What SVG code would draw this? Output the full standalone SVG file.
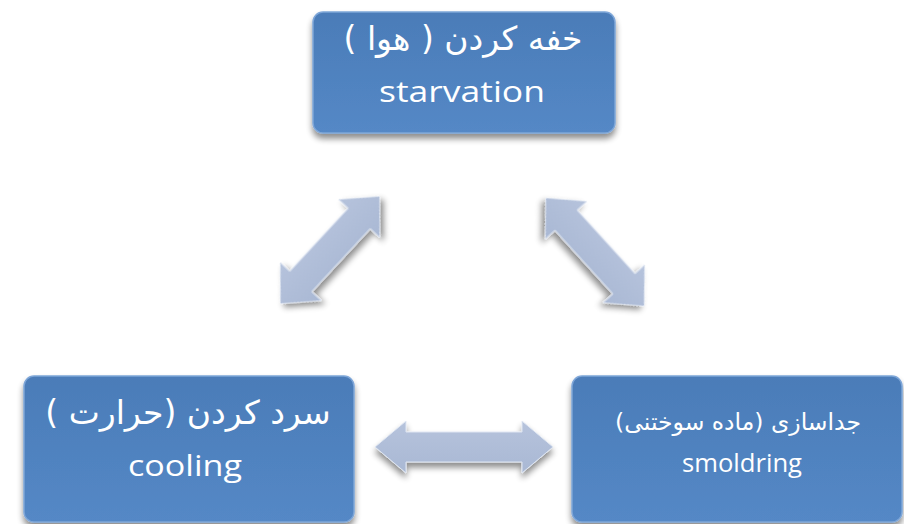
<svg xmlns="http://www.w3.org/2000/svg" width="904" height="524" viewBox="0 0 904 524">
<defs>
<linearGradient id="boxg" x1="0" y1="0" x2="0" y2="1">
<stop offset="0" stop-color="#4b7cb8"/>
<stop offset="1" stop-color="#5488c6"/>
</linearGradient>
<linearGradient id="arrg" x1="0" y1="0" x2="0" y2="1">
<stop offset="0" stop-color="#b6c3dc"/>
<stop offset="1" stop-color="#a9b8d4"/>
</linearGradient>
<filter id="sh" x="-20%" y="-20%" width="140%" height="150%">
<feGaussianBlur in="SourceAlpha" stdDeviation="3"/>
<feOffset dx="0" dy="5" result="b"/>
<feComponentTransfer><feFuncA type="linear" slope="0.45"/></feComponentTransfer>
<feMerge><feMergeNode/><feMergeNode in="SourceGraphic"/></feMerge>
</filter>
<polygon id="dbl" points="-73,0 -43,-28 -43,-15 43,-15 43,-28 73,0 43,28 43,15 -43,15 -43,28"/>
</defs>
<style>
.box{fill:url(#boxg);stroke:#7ea6d8;stroke-width:1.5;filter:url(#sh)}
.arr{fill:url(#arrg);stroke:#dfe6f2;stroke-width:1;filter:url(#sh)}
.fa{font-family:"DejaVu Sans",sans-serif;fill:#ffffff;text-anchor:middle;direction:rtl;unicode-bidi:embed}
.en{font-family:"Open Sans",sans-serif;fill:#ffffff;text-anchor:middle}
</style>
<rect width="904" height="524" fill="#ffffff"/>
<g id="connectors">
<use href="#dbl" class="arr" transform="translate(330,250) rotate(-47.2)"/>
<use href="#dbl" class="arr" transform="translate(595,252) rotate(47.7)"/>
<polygon class="arr" points="375,447 406,421 406,432 522,432 522,421 553,447 522,473 522,462 406,462 406,473"/>
</g>
<g id="node-starvation">
<rect class="box" x="313" y="12" width="302" height="121" rx="10"/>
<text class="fa" x="463" y="50" font-size="33">خفه کردن ( هوا )</text>
<text class="en" x="462" y="102" font-size="30" textLength="166" lengthAdjust="spacingAndGlyphs">starvation</text>
</g>
<g id="node-cooling">
<rect class="box" x="24" y="376" width="330" height="146" rx="10"/>
<text class="fa" x="188" y="424" font-size="33">سرد کردن (حرارت )</text>
<text class="en" x="185" y="476" font-size="29" textLength="114" lengthAdjust="spacingAndGlyphs">cooling</text>
</g>
<g id="node-smoldring">
<rect class="box" x="572" y="376" width="330" height="146" rx="10"/>
<text class="fa" x="738" y="430" font-size="23.5">جداسازی (ماده سوختنی)</text>
<text class="en" x="742" y="472" font-size="26" textLength="120" lengthAdjust="spacingAndGlyphs">smoldring</text>
</g>
</svg>
